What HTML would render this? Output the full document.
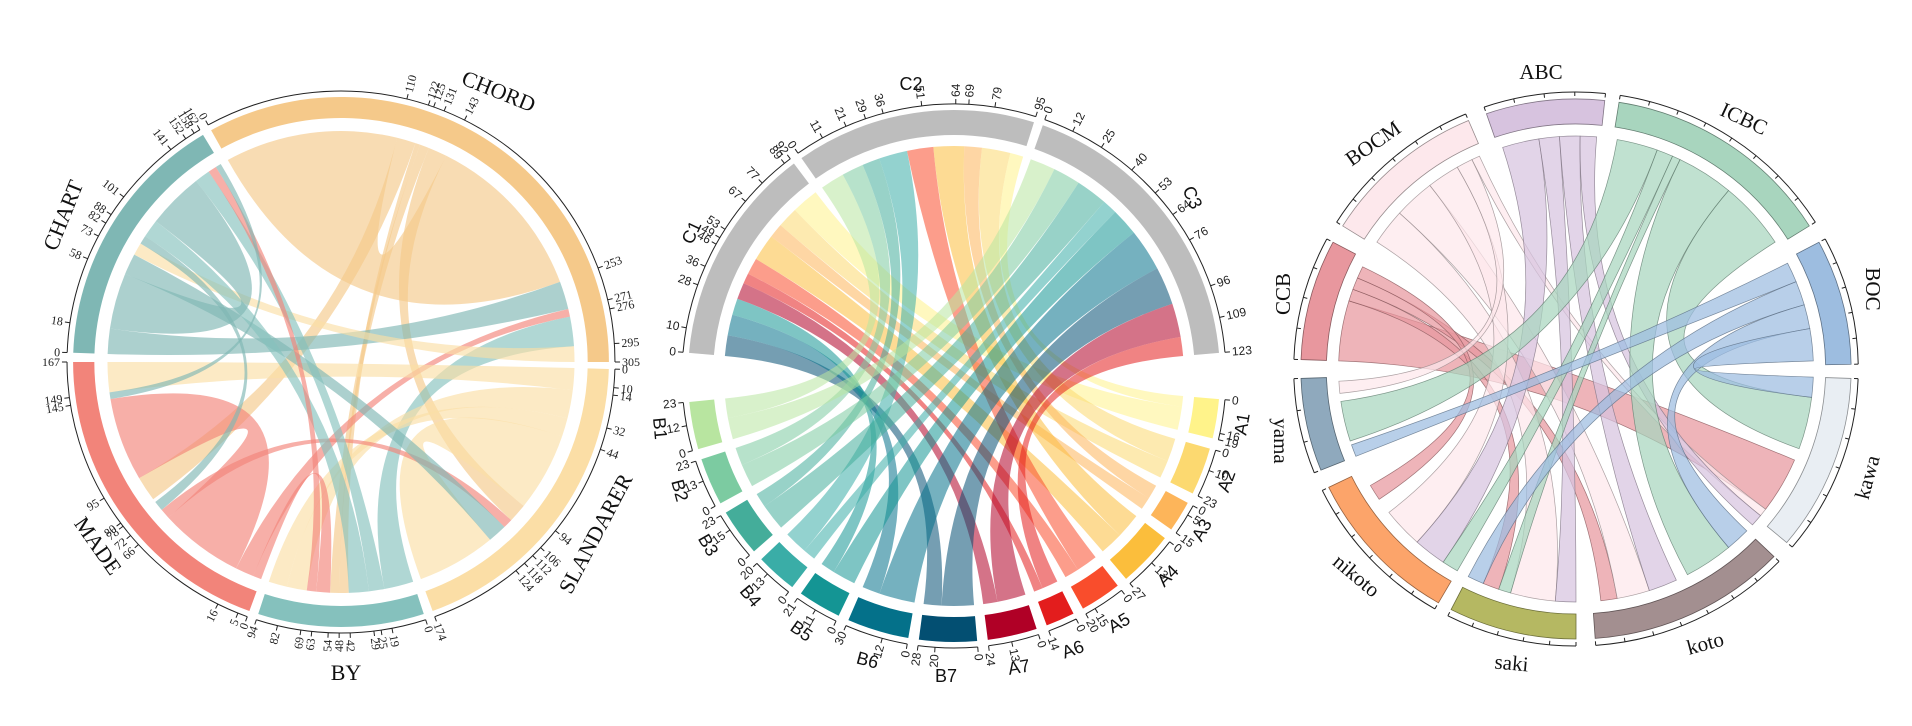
<!DOCTYPE html>
<html><head><meta charset="utf-8"><style>
html,body{margin:0;padding:0;background:#fff;}
svg{display:block;}
.s1{font-family:"Liberation Serif",serif;font-size:12px;fill:#222;}
.s2{font-family:"Liberation Sans",sans-serif;font-size:12px;fill:#222;}
.L1{font-family:"Liberation Serif",serif;font-size:22px;fill:#111;}
.L2{font-family:"Liberation Sans",sans-serif;font-size:18px;fill:#111;}
.L3{font-family:"Liberation Serif",serif;font-size:21px;fill:#111;}
</style></head><body>
<svg id="sv" width="1912" height="726" viewBox="0 0 1912 726" xmlns="http://www.w3.org/2000/svg">
<rect width="1912" height="726" fill="#fff"/>
<g id="chords"></g>
<g id="bands"></g>
<g id="ticks" stroke="#222" stroke-width="1" fill="none"></g>
<g id="labels">
<text class="s1" data-c="0" data-g="CHORD" data-v="0">0</text>
<text class="s1" data-c="0" data-g="CHORD" data-v="110">110</text>
<text class="s1" data-c="0" data-g="CHORD" data-v="122">122</text>
<text class="s1" data-c="0" data-g="CHORD" data-v="125">125</text>
<text class="s1" data-c="0" data-g="CHORD" data-v="131">131</text>
<text class="s1" data-c="0" data-g="CHORD" data-v="143">143</text>
<text class="s1" data-c="0" data-g="CHORD" data-v="253">253</text>
<text class="s1" data-c="0" data-g="CHORD" data-v="271">271</text>
<text class="s1" data-c="0" data-g="CHORD" data-v="276">276</text>
<text class="s1" data-c="0" data-g="CHORD" data-v="295">295</text>
<text class="s1" data-c="0" data-g="CHORD" data-v="305">305</text>
<text class="s1" data-c="0" data-g="SLANDARER" data-v="0">0</text>
<text class="s1" data-c="0" data-g="SLANDARER" data-v="10">10</text>
<text class="s1" data-c="0" data-g="SLANDARER" data-v="14">14</text>
<text class="s1" data-c="0" data-g="SLANDARER" data-v="32">32</text>
<text class="s1" data-c="0" data-g="SLANDARER" data-v="44">44</text>
<text class="s1" data-c="0" data-g="SLANDARER" data-v="94">94</text>
<text class="s1" data-c="0" data-g="SLANDARER" data-v="106">106</text>
<text class="s1" data-c="0" data-g="SLANDARER" data-v="112">112</text>
<text class="s1" data-c="0" data-g="SLANDARER" data-v="118">118</text>
<text class="s1" data-c="0" data-g="SLANDARER" data-v="124">124</text>
<text class="s1" data-c="0" data-g="SLANDARER" data-v="174">174</text>
<text class="s1" data-c="0" data-g="BY" data-v="0">0</text>
<text class="s1" data-c="0" data-g="BY" data-v="19">19</text>
<text class="s1" data-c="0" data-g="BY" data-v="25">25</text>
<text class="s1" data-c="0" data-g="BY" data-v="29">29</text>
<text class="s1" data-c="0" data-g="BY" data-v="42">42</text>
<text class="s1" data-c="0" data-g="BY" data-v="48">48</text>
<text class="s1" data-c="0" data-g="BY" data-v="54">54</text>
<text class="s1" data-c="0" data-g="BY" data-v="63">63</text>
<text class="s1" data-c="0" data-g="BY" data-v="69">69</text>
<text class="s1" data-c="0" data-g="BY" data-v="82">82</text>
<text class="s1" data-c="0" data-g="BY" data-v="94">94</text>
<text class="s1" data-c="0" data-g="MADE" data-v="0">0</text>
<text class="s1" data-c="0" data-g="MADE" data-v="5">5</text>
<text class="s1" data-c="0" data-g="MADE" data-v="16">16</text>
<text class="s1" data-c="0" data-g="MADE" data-v="66">66</text>
<text class="s1" data-c="0" data-g="MADE" data-v="72">72</text>
<text class="s1" data-c="0" data-g="MADE" data-v="78">78</text>
<text class="s1" data-c="0" data-g="MADE" data-v="80">80</text>
<text class="s1" data-c="0" data-g="MADE" data-v="95">95</text>
<text class="s1" data-c="0" data-g="MADE" data-v="145">145</text>
<text class="s1" data-c="0" data-g="MADE" data-v="149">149</text>
<text class="s1" data-c="0" data-g="MADE" data-v="167">167</text>
<text class="s1" data-c="0" data-g="CHART" data-v="0">0</text>
<text class="s1" data-c="0" data-g="CHART" data-v="18">18</text>
<text class="s1" data-c="0" data-g="CHART" data-v="58">58</text>
<text class="s1" data-c="0" data-g="CHART" data-v="73">73</text>
<text class="s1" data-c="0" data-g="CHART" data-v="82">82</text>
<text class="s1" data-c="0" data-g="CHART" data-v="88">88</text>
<text class="s1" data-c="0" data-g="CHART" data-v="101">101</text>
<text class="s1" data-c="0" data-g="CHART" data-v="141">141</text>
<text class="s1" data-c="0" data-g="CHART" data-v="152">152</text>
<text class="s1" data-c="0" data-g="CHART" data-v="158">158</text>
<text class="s1" data-c="0" data-g="CHART" data-v="162">162</text>
<text class="s2" data-c="1" data-g="C1" data-v="0">0</text>
<text class="s2" data-c="1" data-g="C1" data-v="10">10</text>
<text class="s2" data-c="1" data-g="C1" data-v="28">28</text>
<text class="s2" data-c="1" data-g="C1" data-v="36">36</text>
<text class="s2" data-c="1" data-g="C1" data-v="46">46</text>
<text class="s2" data-c="1" data-g="C1" data-v="49">49</text>
<text class="s2" data-c="1" data-g="C1" data-v="53">53</text>
<text class="s2" data-c="1" data-g="C1" data-v="67">67</text>
<text class="s2" data-c="1" data-g="C1" data-v="77">77</text>
<text class="s2" data-c="1" data-g="C1" data-v="89">89</text>
<text class="s2" data-c="1" data-g="C1" data-v="92">92</text>
<text class="s2" data-c="1" data-g="C2" data-v="0">0</text>
<text class="s2" data-c="1" data-g="C2" data-v="11">11</text>
<text class="s2" data-c="1" data-g="C2" data-v="21">21</text>
<text class="s2" data-c="1" data-g="C2" data-v="29">29</text>
<text class="s2" data-c="1" data-g="C2" data-v="36">36</text>
<text class="s2" data-c="1" data-g="C2" data-v="51">51</text>
<text class="s2" data-c="1" data-g="C2" data-v="64">64</text>
<text class="s2" data-c="1" data-g="C2" data-v="69">69</text>
<text class="s2" data-c="1" data-g="C2" data-v="79">79</text>
<text class="s2" data-c="1" data-g="C2" data-v="95">95</text>
<text class="s2" data-c="1" data-g="C3" data-v="0">0</text>
<text class="s2" data-c="1" data-g="C3" data-v="12">12</text>
<text class="s2" data-c="1" data-g="C3" data-v="25">25</text>
<text class="s2" data-c="1" data-g="C3" data-v="40">40</text>
<text class="s2" data-c="1" data-g="C3" data-v="53">53</text>
<text class="s2" data-c="1" data-g="C3" data-v="64">64</text>
<text class="s2" data-c="1" data-g="C3" data-v="76">76</text>
<text class="s2" data-c="1" data-g="C3" data-v="96">96</text>
<text class="s2" data-c="1" data-g="C3" data-v="109">109</text>
<text class="s2" data-c="1" data-g="C3" data-v="123">123</text>
<text class="s2" data-c="1" data-g="A1" data-v="0">0</text>
<text class="s2" data-c="1" data-g="A1" data-v="16">16</text>
<text class="s2" data-c="1" data-g="A1" data-v="19">19</text>
<text class="s2" data-c="1" data-g="A2" data-v="0">0</text>
<text class="s2" data-c="1" data-g="A2" data-v="10">10</text>
<text class="s2" data-c="1" data-g="A2" data-v="23">23</text>
<text class="s2" data-c="1" data-g="A3" data-v="0">0</text>
<text class="s2" data-c="1" data-g="A3" data-v="5">5</text>
<text class="s2" data-c="1" data-g="A3" data-v="15">15</text>
<text class="s2" data-c="1" data-g="A4" data-v="0">0</text>
<text class="s2" data-c="1" data-g="A4" data-v="13">13</text>
<text class="s2" data-c="1" data-g="A4" data-v="27">27</text>
<text class="s2" data-c="1" data-g="A5" data-v="0">0</text>
<text class="s2" data-c="1" data-g="A5" data-v="15">15</text>
<text class="s2" data-c="1" data-g="A5" data-v="20">20</text>
<text class="s2" data-c="1" data-g="A6" data-v="0">0</text>
<text class="s2" data-c="1" data-g="A6" data-v="14">14</text>
<text class="s2" data-c="1" data-g="A7" data-v="0">0</text>
<text class="s2" data-c="1" data-g="A7" data-v="13">13</text>
<text class="s2" data-c="1" data-g="A7" data-v="24">24</text>
<text class="s2" data-c="1" data-g="B7" data-v="0">0</text>
<text class="s2" data-c="1" data-g="B7" data-v="20">20</text>
<text class="s2" data-c="1" data-g="B7" data-v="28">28</text>
<text class="s2" data-c="1" data-g="B6" data-v="0">0</text>
<text class="s2" data-c="1" data-g="B6" data-v="12">12</text>
<text class="s2" data-c="1" data-g="B6" data-v="30">30</text>
<text class="s2" data-c="1" data-g="B5" data-v="0">0</text>
<text class="s2" data-c="1" data-g="B5" data-v="11">11</text>
<text class="s2" data-c="1" data-g="B5" data-v="21">21</text>
<text class="s2" data-c="1" data-g="B4" data-v="0">0</text>
<text class="s2" data-c="1" data-g="B4" data-v="13">13</text>
<text class="s2" data-c="1" data-g="B4" data-v="20">20</text>
<text class="s2" data-c="1" data-g="B3" data-v="0">0</text>
<text class="s2" data-c="1" data-g="B3" data-v="15">15</text>
<text class="s2" data-c="1" data-g="B3" data-v="23">23</text>
<text class="s2" data-c="1" data-g="B2" data-v="0">0</text>
<text class="s2" data-c="1" data-g="B2" data-v="13">13</text>
<text class="s2" data-c="1" data-g="B2" data-v="23">23</text>
<text class="s2" data-c="1" data-g="B1" data-v="0">0</text>
<text class="s2" data-c="1" data-g="B1" data-v="12">12</text>
<text class="s2" data-c="1" data-g="B1" data-v="23">23</text>
</g>
<g id="names">
<text class="L1" transform="translate(496,98) rotate(22)" text-anchor="middle">CHORD</text>
<text class="L1" transform="translate(602,537) rotate(-62)" text-anchor="middle">SLANDARER</text>
<text class="L1" x="346" y="680" text-anchor="middle">BY</text>
<text class="L1" transform="translate(92,550) rotate(55)" text-anchor="middle">MADE</text>
<text class="L1" transform="translate(70,218) rotate(-68)" text-anchor="middle">CHART</text>

<text class="L2" transform="translate(697,235) rotate(-65)" text-anchor="middle">C1</text>
<text class="L2" x="911" y="90" text-anchor="middle">C2</text>
<text class="L2" transform="translate(1187,200) rotate(65)" text-anchor="middle">C3</text>
<text class="L2" transform="translate(1248,425) rotate(-80)" text-anchor="middle">A1</text>
<text class="L2" transform="translate(1232,483) rotate(-70)" text-anchor="middle">A2</text>
<text class="L2" transform="translate(1207,533) rotate(-60)" text-anchor="middle">A3</text>
<text class="L2" transform="translate(1172,580) rotate(-45)" text-anchor="middle">A4</text>
<text class="L2" transform="translate(1122,628) rotate(-30)" text-anchor="middle">A5</text>
<text class="L2" transform="translate(1075,655) rotate(-20)" text-anchor="middle">A6</text>
<text class="L2" transform="translate(1020,673) rotate(-10)" text-anchor="middle">A7</text>
<text class="L2" x="946" y="682" text-anchor="middle">B7</text>
<text class="L2" transform="translate(866,666) rotate(15)" text-anchor="middle">B6</text>
<text class="L2" transform="translate(798,636) rotate(35)" text-anchor="middle">B5</text>
<text class="L2" transform="translate(746,600) rotate(50)" text-anchor="middle">B4</text>
<text class="L2" transform="translate(703,548) rotate(60)" text-anchor="middle">B3</text>
<text class="L2" transform="translate(674,492) rotate(75)" text-anchor="middle">B2</text>
<text class="L2" transform="translate(654,429) rotate(85)" text-anchor="middle">B1</text>

<text class="L3" x="1541" y="79" text-anchor="middle">ABC</text>
<text class="L3" transform="translate(1741,125) rotate(25)" text-anchor="middle">ICBC</text>
<text class="L3" transform="translate(1866,289) rotate(90)" text-anchor="middle">BOC</text>
<text class="L3" transform="translate(1874,479) rotate(-75)" text-anchor="middle">kawa</text>
<text class="L3" transform="translate(1707,650) rotate(-15)" text-anchor="middle">koto</text>
<text class="L3" transform="translate(1511,670) rotate(5)" text-anchor="middle">saki</text>
<text class="L3" transform="translate(1352,581) rotate(40)" text-anchor="middle">nikoto</text>
<text class="L3" transform="translate(1377,149) rotate(-35)" text-anchor="middle">BOCM</text>
<text class="L3" transform="translate(1290,294) rotate(-90)" text-anchor="middle">CCB</text>
<text class="L3" transform="translate(1274,441) rotate(90)" text-anchor="middle">yama</text>
</g>
</svg>
<script>
(function(){
var NS="http://www.w3.org/2000/svg";
var CH=[
 {cx:341,cy:362,sx:1.011,R:265,bin:244,cr:231,ax:271,
  g:{CHORD:[-29,90,305,'#f5c98a'],SLANDARER:[91.5,160,174,'#fbdea6'],BY:[162,198,94,'#85c1bd'],MADE:[200,270,167,'#f2847a'],CHART:[272,329,162,'#7fb7b4']}},
 {cx:954,cy:376,sx:1.0,R:266,bin:241,cr:230,ax:272,
  g:{C1:[-85,-37,92,'#bdbdbd'],C2:[-35,17.5,95,'#bdbdbd'],C3:[19.5,85,123,'#bdbdbd']}},
 {cx:1576,cy:369,sx:1.019,R:270,bin:245,cr:233,ax:277,
  g:{ABC:[-19,6,0,'#d7c3df'],ICBC:[9,58,0,'#a8d5be'],BOC:[62,89,0,'#9dbde0'],kawa:[92,130,0,'#e9eef3'],koto:[134,176,0,'#a38f90'],saki:[180,207,0,'#b5b862'],nikoto:[210,244,0,'#fca46a'],yama:[248,268,0,'#8fa9bd'],CCB:[272,298,0,'#e8979e'],BOCM:[302,337,0,'#fde8ec']}}
];
var bot=[['A1',19,'#fff38a'],['A2',23,'#fcd970'],['A3',15,'#fdb55a'],['A4',27,'#fbbe3c'],['A5',20,'#f94d2c'],['A6',14,'#e31d1d'],['A7',24,'#b00026'],['B7',28,'#034f72'],['B6',30,'#04718a'],['B5',21,'#149594'],['B4',20,'#3aada7'],['B3',23,'#44ad9a'],['B2',23,'#7ccba1'],['B1',23,'#b8e5a0']];
var a=95;bot.forEach(function(b){CH[1].g[b[0]]=[a,a+b[1]*0.45,b[1],b[2]];a+=b[1]*0.45+2.3;});
function P(c,th,r){var t=th*Math.PI/180;return [c.cx+c.sx*r*Math.sin(t),c.cy-r*Math.cos(t)];}
function f(p){return p[0].toFixed(2)+","+p[1].toFixed(2);}
function arc(c,r,t0,t1,sw){var l=Math.abs(t1-t0)>180?1:0;return "A"+(c.sx*r).toFixed(2)+","+r+" 0 "+l+","+sw+" "+f(P(c,t1,r));}
function band(c,t0,t1,r0,r1){return "M"+f(P(c,t0,r1))+arc(c,r1,t0,t1,1)+"L"+f(P(c,t1,r0))+arc(c,r0,t1,t0,0)+"Z";}
function rib(c,a0,a1,b0,b1){var r=c.cr,o=c.cx+","+c.cy;
 return "M"+f(P(c,a0,r))+arc(c,r,a0,a1,a1>a0?1:0)+"Q"+o+" "+f(P(c,b0,r))+arc(c,r,b0,b1,b1>b0?1:0)+"Q"+o+" "+f(P(c,a0,r))+"Z";}
function ang(c,g,v){var G=c.g[g];return G[0]+(G[1]-G[0])*v/G[2];}
function add(par,tag,at){var e=document.createElementNS(NS,tag);for(var k in at)e.setAttribute(k,at[k]);document.getElementById(par).appendChild(e);return e;}
function dark(h,k){var n=parseInt(h.slice(1),16);var r=(n>>16)*k|0,g=((n>>8)&255)*k|0,b=(n&255)*k|0;return "rgb("+r+","+g+","+b+")";}
CH.forEach(function(c,i){for(var k in c.g){var G=c.g[k];
 add("bands","path",{d:band(c,G[0],G[1],c.bin,c.R),fill:G[3],stroke:i==2?dark(G[3],0.6):"none","stroke-width":0.8});
 var ra=c.ax;add("ticks","path",{d:"M"+f(P(c,G[0],ra))+arc(c,ra,G[0],G[1],1)});
 if(i==2){var n=Math.max(2,Math.round((G[1]-G[0])/6));for(var j=0;j<=n;j++){var t=G[0]+(G[1]-G[0])*j/n;add("ticks","path",{d:"M"+f(P(c,t,ra))+"L"+f(P(c,t,ra-4))});}}
}});
var c1=[['CHORD',0,110,'CHORD',143,253,'CHORD'],['CHORD',110,122,'MADE',80,95,'CHORD'],['CHORD',122,125,'BY',42,48,'CHORD'],['CHORD',125,131,'BY',48,54,'CHORD'],['CHORD',131,143,'SLANDARER',94,106,'CHORD'],['CHORD',253,271,'CHART',0,18,'CHART'],['CHORD',271,276,'MADE',5,16,'MADE'],['CHORD',276,295,'BY',0,19,'BY'],['CHORD',295,305,'CHART',73,82,'SLANDARER'],['SLANDARER',0,14,'MADE',149,167,'SLANDARER'],['SLANDARER',14,32,'BY',69,82,'SLANDARER'],['SLANDARER',32,44,'BY',82,94,'SLANDARER'],['SLANDARER',44,94,'SLANDARER',124,174,'SLANDARER'],['SLANDARER',106,112,'MADE',66,72,'MADE'],['SLANDARER',112,124,'CHART',58,73,'CHART'],['BY',19,29,'CHART',141,152,'BY'],['BY',29,42,'CHART',88,101,'BY'],['BY',54,63,'MADE',0,5,'MADE'],['BY',63,69,'CHART',152,158,'MADE'],['MADE',16,66,'MADE',95,145,'MADE'],['MADE',145,149,'CHART',158,162,'CHART'],['CHART',18,58,'CHART',101,141,'CHART'],['CHART',82,88,'MADE',72,78,'CHART']];
var c=CH[0];c1.forEach(function(d){add("chords","path",{d:rib(c,ang(c,d[0],d[1]),ang(c,d[0],d[2]),ang(c,d[3],d[4]),ang(c,d[3],d[5])),fill:c.g[d[6]][3],"fill-opacity":0.65});});
var alloc={B1:[0,11,12],B2:[0,10,13],B3:[0,8,15],B4:[0,13,7],B5:[8,0,13],B6:[10,0,20],B7:[10,0,18],A7:[8,0,16],A6:[5,0,9],A5:[8,12,0],A4:[13,14,0],A3:[7,8,0],A2:[10,13,0],A1:[13,6,0]};
var ord={C1:['B7','B6','B5','A7','A6','A5','A4','A3','A2','A1'],C2:['B1','B2','B3','B4','A5','A4','A3','A2','A1'],C3:['B1','B2','B3','B4','B5','B6','B7','A7','A6']};
var tops=['C1','C2','C3'],pos={};
c=CH[1];bot.forEach(function(b){pos[b[0]]=0;});
var segs=[];
tops.forEach(function(T,ti){var p=0;ord[T].forEach(function(B){var v=alloc[B][ti];if(!v)return;segs.push([T,p,p+v,B,ti,v]);p+=v;});});
[2,1,0].forEach(function(ti){segs.forEach(function(s){if(s[4]!=ti)return;s.push(pos[s[3]]);pos[s[3]]+=s[5];});});
segs.forEach(function(s){var B=s[3];add("chords","path",{d:rib(c,ang(c,s[0],s[1]),ang(c,s[0],s[2]),ang(c,B,s[6]),ang(c,B,s[6]+s[5])),fill:c.g[B][3],"fill-opacity":0.55});});
var c3=[['CCB',272,287,113,127],['CCB',287,290,199,203],['CCB',290,293,170,174],['CCB',293,296,236,240],['BOCM',303,312,185,196],['BOCM',312,322,162,170],['BOCM',322,330,222,232],['BOCM',330,334,264,267],['BOCM',334,336,127,129],['ABC',-18,-9,214,222],['ABC',-9,-4,180,185],['ABC',-4,1,155,162],['ABC',1,5,129,132],['ICBC',10,20,252,262],['ICBC',20,24,210,214],['ICBC',24,26,196,199],['ICBC',26,40,140,152],['ICBC',40,57,97,110],['BOC',63,68,248,251],['BOC',68,74,203,207],['BOC',74,80,134,140],['BOC',80,88,92,97]];
c=CH[2];c3.forEach(function(d){var col=c.g[d[0]][3];add("chords","path",{d:rib(c,d[1],d[2],d[3],d[4]),fill:col,"fill-opacity":0.72,stroke:dark(col,0.6),"stroke-width":0.7,"stroke-opacity":0.8});});
var ts=document.querySelectorAll("#labels text");
for(var i=0;i<ts.length;i++){var e=ts[i];var cc=CH[+e.getAttribute("data-c")];var th=ang(cc,e.getAttribute("data-g"),+e.getAttribute("data-v"));
 add("ticks","path",{d:"M"+f(P(cc,th,cc.ax))+"L"+f(P(cc,th,cc.ax+5))});
 var p=P(cc,th,cc.ax+7);var tn=((th%360)+360)%360;var rot,anc;
 if(tn<=180){rot=tn-90;anc="start";}else{rot=tn-270;anc="end";}
 e.setAttribute("transform","translate("+f(p)+") rotate("+rot.toFixed(1)+")");e.setAttribute("text-anchor",anc);e.setAttribute("dominant-baseline","central");}
})();
</script>
</body></html>
